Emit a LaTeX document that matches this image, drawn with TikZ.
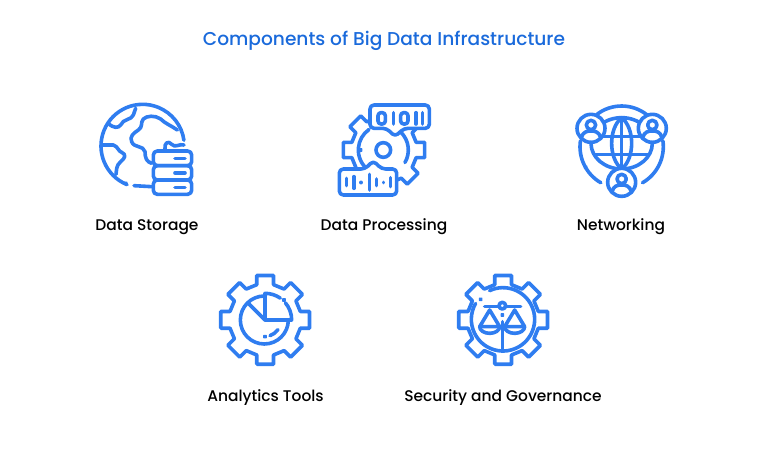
\documentclass[tikz,border=0pt]{standalone}
\usepackage{fontspec}
\usetikzlibrary{calc}
\setmainfont{Poppins}[UprightFont=* Medium]
\definecolor{iconblue}{HTML}{2F7DF0}
\definecolor{titleblue}{HTML}{1A6ADB}
\tikzset{
  icon/.style={draw=iconblue,line width=3.6pt,line cap=round,line join=round},
  mask/.style={icon,fill=white},
  caption/.style={text=black,font=\fontsize{15.45}{18}\selectfont,inner sep=0pt},
  heading/.style={text=titleblue,font=\fontsize{18.6}{24}\selectfont,inner sep=0pt},
  zoomed/.style={x=0.3333pt,y=-0.3333pt}
}
% gear outline: centre x, centre y, outer radius
\newcommand{\gearshape}[3]{
  \draw[icon] ($(#1,#2)+({-13.4}:{#3*0.8})$)
    \foreach \a in {0,45,...,315}{
      -- ($(#1,#2)+({\a-13.4}:{#3*0.8})$) -- ($(#1,#2)+({\a-10.7}:#3)$)
      -- ($(#1,#2)+({\a+10.7}:#3)$) -- ($(#1,#2)+({\a+13.4}:{#3*0.8})$)
    } -- cycle;
}
% person in a circle
\newcommand{\person}[2]{
  \draw[mask] (#1,#2) circle [radius=42];
  \draw[icon] (#1,{#2-10}) circle [radius=14];
  \draw[icon] ({#1-29},{#2+28}) .. controls ({#1-24},{#2+10}) and ({#1-12},{#2+8}) .. (#1,{#2+8})
    .. controls ({#1+12},{#2+8}) and ({#1+24},{#2+10}) .. ({#1+29},{#2+28});
}
\begin{document}
\begin{tikzpicture}[x=1pt,y=-1pt]
\useasboundingbox (0,0) rectangle (768,456);

\node[heading] (title) at (384,40.5) {Components of Big Data Infrastructure};
\node[caption] (storage) at (147,227) {Data Storage};
\node[caption] (processing) at (384,227) {Data Processing};
\node[caption] (networking) at (621,227) {Networking};
\node[caption] (analytics) at (265.5,398) {Analytics Tools};
\node[caption] (security) at (503,398) {Security and Governance};

% data storage
\begin{scope}[shift={(90,95)},zoomed]
\draw[icon] (158,153) ++(112:125) arc (112:352:125);
\draw[icon,fill=iconblue] (107,265) circle [radius=1.5];
\draw[icon] (132,272) -- (185,275);
\draw[icon] (55,85) .. controls (70,100) and (85,100) .. (92,90) .. controls (98,72) and (125,75) .. (130,60) -- (137,40);
\draw[icon] (38,150) -- (70,150) .. controls (85,155) and (85,170) .. (95,172) .. controls (110,178) and (105,190) .. (92,200) .. controls (78,212) and (80,225) .. (78,238);
\draw[icon] (262,105) .. controls (240,90) and (225,85) .. (212,72) .. controls (195,60) and (170,62) .. (160,72) .. controls (150,85) and (160,95) .. (145,105) .. controls (130,115) and (118,125) .. (125,140) .. controls (132,160) and (160,150) .. (165,170) .. controls (165,190) and (170,200) .. (185,205);
\draw[icon] (225,162) .. controls (222,145) and (235,135) .. (245,148) .. controls (255,160) and (270,145) .. (282,150);
\draw[icon,rounded corners=4pt] (190,168) rectangle (305,212);
\draw[icon,rounded corners=4pt] (190,212) rectangle (305,255);
\draw[icon,rounded corners=4pt] (190,255) rectangle (305,298);
\foreach \y in {190,234,277} \draw[icon] (255,\y) -- (285,\y);
\end{scope}

% data processing
\begin{scope}[shift={(330,95)},zoomed]
\gearshape{162}{165}{124}
\draw[icon] (160,165) ++(125:75) arc (125:235:75);
\draw[icon] (160,165) ++(-45:75) arc (-45:30:75);
\draw[icon] (160,165) circle [radius=22];
\draw[icon,fill=iconblue] (92,165) circle [radius=1.5];
\draw[mask,rounded corners=4pt] (120,30) -- (298,30) -- (298,100) -- (222,100) -- (195,125) -- (170,100) -- (120,100) -- cycle;
\draw[mask,rounded corners=4pt] (28,222) -- (105,222) -- (130,197) -- (155,222) -- (200,222) -- (200,300) -- (28,300) -- cycle;
\draw[icon,rounded corners=3pt] (144,53) rectangle (166,87);
\draw[icon] (190,53) -- (190,87);
\draw[icon,rounded corners=3pt] (212,53) rectangle (234,87);
\draw[icon] (258,53) -- (258,87);
\draw[icon] (278,53) -- (278,87);
\draw[icon] (50,250) -- (50,272);
\draw[icon] (72,245) -- (72,280);
\draw[icon] (93,262) -- (93,263);
\draw[icon] (118,238) -- (118,285);
\draw[icon] (140,252) -- (140,272);
\draw[icon] (160,262) -- (160,263);
\draw[icon] (182,248) -- (182,275);
\end{scope}

% networking
\begin{scope}[shift={(565,95)},zoomed]
\draw[icon] (170,155) ++(-128:122) arc (-128:-52:122);
\draw[icon] (170,155) ++(-8:125) arc (-8:60:125);
\draw[icon] (170,155) ++(120:125) arc (120:188:125);
\draw[icon,fill=iconblue] (62,217) circle [radius=1.5];
\draw[icon] (170,145) ellipse [x radius=92,y radius=77];
\draw[icon] (170,68) .. controls (130,100) and (130,190) .. (170,222);
\draw[icon] (170,68) .. controls (210,100) and (210,190) .. (170,222);
\draw[icon] (170,68) -- (170,222);
\draw[icon] (100,125) -- (240,125);
\draw[icon] (90,178) -- (250,178);
\person{78}{100}
\person{262}{100}
\person{170}{262}
\end{scope}

% analytics tools
\begin{scope}[shift={(210,265)},zoomed]
\gearshape{165.5}{164.5}{135.5}
\draw[icon] (163,165) ++(0:72) arc (0:270:72);
\draw[icon] (165,165) -- (165,85) arc (-90:-55:80);
\draw[icon] (165,165) -- (245,165) arc (0:-40:80);
\draw[icon,fill=iconblue] (222,105) circle [radius=1.5];
\draw[icon] (165,165) -- (115,115);
\draw[icon,fill=iconblue] (165,215) circle [radius=1.5];
\draw[icon] (163,165) ++(70:50) arc (70:35:50);
\end{scope}

% security and governance
\begin{scope}[shift={(448,265)},zoomed]
\gearshape{165.5}{164.5}{135.5}
\draw[icon] (165,163) ++(-115:95) arc (-115:210:95);
\draw[icon,fill=iconblue] (98,103) circle [radius=1.5];
\draw[icon] (163,122) circle [radius=10];
\draw[icon] (110,125) -- (153,125);
\draw[icon] (173,125) -- (218,125);
\draw[icon,fill=iconblue] (163,150) circle [radius=1.5];
\draw[icon] (163,170) -- (163,255);
\draw[icon] (95,185) -- (125,135) -- (155,185) -- cycle;
\draw[icon] (95,185) arc [start angle=180,end angle=0,x radius=30,y radius=20];
\draw[icon] (170,185) -- (200,135) -- (230,185) -- cycle;
\draw[icon] (170,185) arc [start angle=180,end angle=0,x radius=30,y radius=20];
\end{scope}
\end{tikzpicture}
\end{document}
